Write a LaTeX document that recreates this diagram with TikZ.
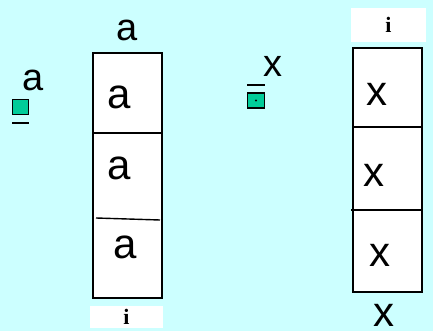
\documentclass[tikz,border=0pt]{standalone}
\usepackage{fontspec}
\setmainfont{Liberation Sans}
\newfontfamily\serifb{Liberation Serif}
\definecolor{bgcyan}{HTML}{CCFFFF}
\definecolor{teal}{HTML}{00CC99}
\begin{document}
\begin{tikzpicture}[x=1pt,y=-1pt,
  big/.style={inner sep=0pt,font=\fontsize{42}{42}\selectfont},
  lbl/.style={inner sep=0pt,font=\fontsize{38}{38}\selectfont},
  col/.style={draw=black,line width=1.6pt,fill=white,inner sep=0pt},
  ibox/.style={fill=white,inner sep=0pt,font=\serifb\bfseries\fontsize{22}{22}\selectfont},
  sq/.style={draw=black,line width=1.3pt,fill=teal,inner sep=0pt},
  bar/.style={line width=1.4pt}]
\fill[bgcyan] (0,0) rectangle (433,331);
\useasboundingbox (0,0) rectangle (433,331);
% left
\node[lbl] (la) at (33,80) {a};
\node[sq,minimum width=16pt,minimum height=15pt] (lsq) at (20.5,107) {};
\coordinate (lu1) at (12,123);
\coordinate (lu2) at (29,123);
\draw[bar] (lu1) -- (lu2);
\node[lbl] (ta) at (127,30) {a};
\node[col,minimum width=69pt,minimum height=245pt] (lcol) at (127.5,175.5) {};
\coordinate (ld1a) at (93,133);
\coordinate (ld1b) at (162,133);
\coordinate (ld2a) at (96,218);
\coordinate (ld2b) at (160,220);
\draw[line width=1.6pt] (ld1a) -- (ld1b);
\draw[line width=1.4pt] (ld2a) -- (ld2b);
\node[big] (a1) at (119,97) {a};
\node[big] (a2) at (119,168) {a};
\node[big] (a3) at (125,247) {a};
\node[ibox,minimum width=73pt,minimum height=22pt] (li) at (126.5,317) {i};
% right
\node[lbl] (mx) at (273,66) {x};
\node[sq,minimum width=17pt,minimum height=15pt] (msq) at (256,100.5) {};
\fill (msq.center) circle (1.2pt);
\coordinate (mo1) at (247,85);
\coordinate (mo2) at (265,85);
\draw[bar] (mo1) -- (mo2);
\node[ibox,minimum width=75pt,minimum height=34pt] (ri) at (388.5,25) {i};
\node[col,minimum width=69pt,minimum height=244pt] (rcol) at (387.5,170) {};
\coordinate (rd1a) at (353,127);
\coordinate (rd1b) at (422,127);
\coordinate (rd2a) at (351,210);
\coordinate (rd2b) at (422,210);
\draw[line width=1.6pt] (rd1a) -- (rd1b);
\draw[line width=1.6pt] (rd2a) -- (rd2b);
\node[big] (x1) at (377,94) {x};
\node[big] (x2) at (374,175) {x};
\node[big] (x3) at (380,255) {x};
\node[big] (bx) at (384,315) {x};
\end{tikzpicture}
\end{document}
